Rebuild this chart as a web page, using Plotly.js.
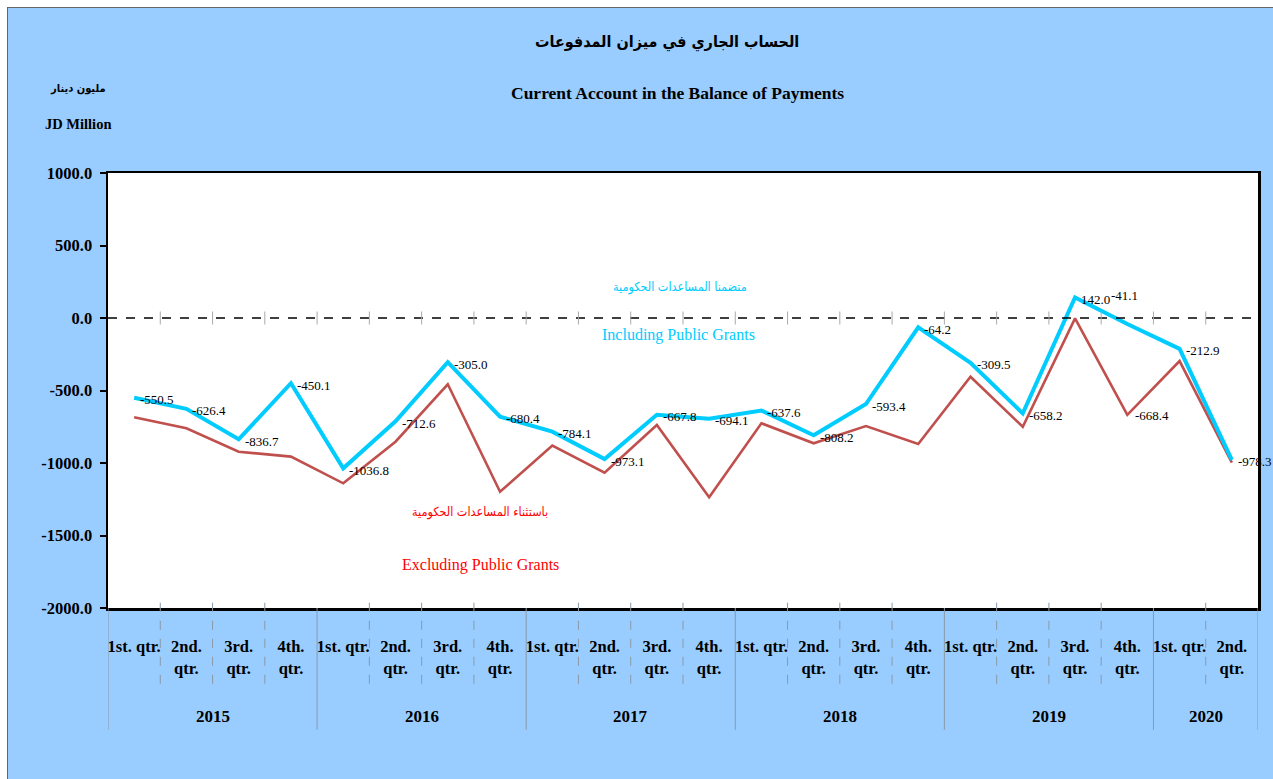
<!DOCTYPE html>
<html>
<head>
<meta charset="utf-8">
<script src="https://cdn.plot.ly/plotly-3.0.1.min.js"></script>
<style>
  html, body { margin: 0; padding: 0; background: #ffffff; }
  #chart { position: absolute; left: 7px; top: 7px; border-left: 1px solid #666; border-top: 1px solid #666; width: 1265px; height: 771px; }
</style>
</head>
<body>
<div id="chart"></div>
<script>
// ---- data ----
const years = ["2015", "2016", "2017", "2018", "2019", "2020"];
const quartersPerYear = [4, 4, 4, 4, 4, 2];
const quarterLabels = ["1st. qtr.", "2nd.<br>qtr.", "3rd.<br>qtr.", "4th.<br>qtr."];
const yTickValues = [1000, 500, 0, -500, -1000, -1500, -2000];

// Current account including public grants (JD million)
const includingGrants = [
  -550.5, -626.4, -836.7, -450.1,
  -1036.8, -712.6, -305.0, -680.4,
  -784.1, -973.1, -667.8, -694.1,
  -637.6, -808.2, -593.4, -64.2,
  -309.5, -658.2, 142.0, -41.1,
  -212.9, -978.3
];
// Current account excluding public grants (JD million)
const excludingGrants = [
  -685, -761, -922, -956,
  -1140, -853, -457, -1198,
  -880, -1067, -738, -1237,
  -726, -864, -745, -869,
  -405, -750, -3, -668.4,
  -297, -998
];

// ---- build categories ----
const categories = [];
const tickText = [];
const yearGroups = [];
let idx = 0;
years.forEach((y, yi) => {
  const start = idx;
  for (let q = 0; q < quartersPerYear[yi]; q++) {
    categories.push(y + " Q" + (q + 1));
    tickText.push(quarterLabels[q]);
    idx++;
  }
  yearGroups.push({ year: y, start: start, end: idx - 1 });
});

const serif = "Liberation Serif, Times New Roman, serif";
const arabicFont = "DejaVu Sans Condensed, DejaVu Sans, Noto Sans, sans-serif";
const cyan = "#00CCFF";
const brick = "#C0504D";

const traces = [
  {
    x: categories, y: excludingGrants, type: "scatter", mode: "lines",
    line: { color: brick, width: 2.6 }, name: "Excluding Public Grants", hoverinfo: "x+y"
  },
  {
    x: categories, y: includingGrants, type: "scatter", mode: "lines",
    line: { color: cyan, width: 4 }, name: "Including Public Grants", hoverinfo: "x+y"
  }
];

const shapes = [];
// dashed zero line
shapes.push({ type: "line", xref: "paper", yref: "y", x0: 0, x1: 1, y0: 0, y1: 0,
  line: { color: "#000", width: 1.6, dash: "dash" } });
// small boundary ticks crossing the zero line + quarter separators below the axis
const yearBoundaries = new Set();
yearGroups.forEach(g => { yearBoundaries.add(g.start - 0.5); yearBoundaries.add(g.end + 0.5); });
for (let i = -0.5; i <= categories.length - 0.5; i += 1) {
  if (i > -0.5 && i < categories.length - 0.5) {
    shapes.push({ type: "line", xref: "x", yref: "y", x0: i, x1: i, y0: -45, y1: 45,
      line: { color: "#aaaaaa", width: 1 } });
  }
  if (yearBoundaries.has(i)) {
    shapes.push({ type: "line", xref: "x", yref: "paper", x0: i, x1: i, y0: 0, y1: -0.28,
      line: { color: "#8a9aa8", width: 1 } });
  } else {
    shapes.push({ type: "line", xref: "x", yref: "paper", x0: i, x1: i, y0: 0.012, y1: -0.19,
      line: { color: "#8a9aa8", width: 1, dash: "dash" } });
  }
}

const annotations = [];
// data labels for the "including" series
includingGrants.forEach((v, i) => {
  const special = (i === 19);
  annotations.push({
    x: categories[i], y: v, xref: "x", yref: "y", text: v.toFixed(1), showarrow: false,
    xanchor: special ? "center" : "left", yanchor: "middle",
    xshift: special ? -3 : 4, yshift: special ? 28 : -2,
    font: { family: serif, size: 13, color: "#000" }
  });
});
// the single label on the "excluding" series
annotations.push({
  x: categories[19], y: excludingGrants[19], xref: "x", yref: "y",
  text: excludingGrants[19].toFixed(1), showarrow: false,
  xanchor: "left", yanchor: "middle", xshift: 6, yshift: -1,
  font: { family: serif, size: 13, color: "#000" }
});
// year labels
yearGroups.forEach(g => {
  annotations.push({
    x: (g.start + g.end) / 2, y: -0.25, xref: "x", yref: "paper", text: g.year,
    showarrow: false, xanchor: "center", yanchor: "middle",
    font: { family: serif, size: 17, color: "#000", weight: "bold" }
  });
});
// titles and texts
const textItems = [
  { x: 0.486, y: 1.300, text: "الحساب الجاري في ميزان المدفوعات", font: { family: arabicFont, size: 16, color: "#000", weight: "bold" } },
  { x: 0.495, y: 1.184, text: "Current Account in the Balance of Payments", font: { family: serif, size: 17.5, color: "#000", weight: "bold" } },
  { x: -0.026, y: 1.195, text: "مليون دينار", font: { family: arabicFont, size: 11, color: "#000", weight: "bold" } },
  { x: -0.026, y: 1.113, text: "JD Million", font: { family: serif, size: 14.5, color: "#000", weight: "bold" } },
  { x: 0.497, y: 0.738, text: "متضمنا المساعدات الحكومية", font: { family: arabicFont, size: 12.5, color: cyan } },
  { x: 0.496, y: 0.628, text: "Including Public Grants", font: { family: serif, size: 16, color: cyan } },
  { x: 0.3235, y: 0.221, text: "باستثناء المساعدات الحكومية", font: { family: arabicFont, size: 12.5, color: "#FF0000" } },
  { x: 0.324, y: 0.099, text: "Excluding Public Grants", font: { family: serif, size: 16, color: "#FF0000" } }
];
textItems.forEach(t => annotations.push(Object.assign({
  xref: "paper", yref: "paper", showarrow: false, xanchor: "center", yanchor: "middle"
}, t)));

const layout = {
  width: 1265, height: 771,
  margin: { l: 100, r: 15, t: 165, b: 171 },
  paper_bgcolor: "#99CCFF",
  plot_bgcolor: "#ffffff",
  showlegend: false,
  xaxis: {
    type: "category", categoryorder: "array", categoryarray: categories,
    tickvals: categories, ticktext: tickText, tickangle: 0,
    range: [-0.5, categories.length - 0.5],
    ticks: "", showgrid: false, zeroline: false,
    showline: true, linecolor: "#000", linewidth: 2.5, mirror: true,
    ticklabelstandoff: 22,
    tickfont: { family: serif, size: 16.5, color: "#000", weight: "bold" },
    fixedrange: true
  },
  yaxis: {
    range: [-2000, 1000],
    tickvals: yTickValues, ticktext: yTickValues.map(v => v.toFixed(1)),
    ticks: "outside", ticklen: 6, tickwidth: 2, tickcolor: "#000",
    showgrid: false, zeroline: false,
    showline: true, linecolor: "#000", linewidth: 2.5, mirror: true,
    ticklabelstandoff: 4,
    tickfont: { family: serif, size: 16.5, color: "#000", weight: "bold" },
    fixedrange: true
  },
  shapes: shapes,
  annotations: annotations
};

Plotly.newPlot("chart", traces, layout, { displayModeBar: false, staticPlot: true });
</script>
</body>
</html>
